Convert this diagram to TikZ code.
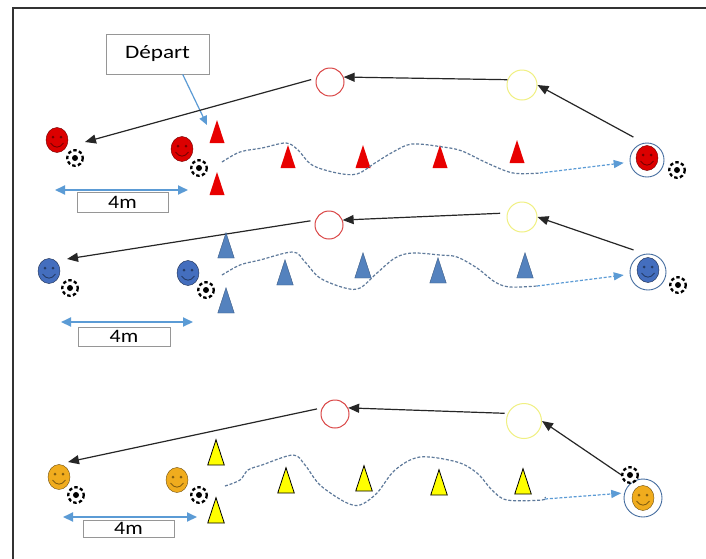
\documentclass[tikz,border=0pt]{standalone}
\usepackage{fontspec}
\setmainfont{Carlito}
\usetikzlibrary{arrows.meta}
\definecolor{conered}{RGB}{232,0,0}
\definecolor{coneblue}{RGB}{84,130,190}
\definecolor{coneyellow}{RGB}{255,255,0}
\definecolor{smred}{RGB}{220,0,0}
\definecolor{smblue}{RGB}{68,110,190}
\definecolor{smorange}{RGB}{240,172,30}
\definecolor{spotred}{RGB}{218,70,70}
\definecolor{spotyellow}{RGB}{240,240,130}
\definecolor{ringblue}{RGB}{70,110,160}
\definecolor{arrowblue}{RGB}{91,155,213}
\definecolor{wavegray}{RGB}{95,122,155}
\definecolor{boxgray}{RGB}{150,150,150}
\tikzset{
cone/.pic={
  \path[pic actions] (-7.5,0) -- (0,-23) -- (7.5,0) -- cycle;
  },
player/.pic={
  \path[pic actions] (0,0) ellipse [x radius=11, y radius=12.5];
  \fill[black, opacity=.45] (-4,-3) circle [radius=1.5] (4,-3) circle [radius=1.5];
  \draw[black, opacity=.45, line width=.9] (-6.5,3) .. controls (-3,8.5) and (3,8.5) .. (6.5,3);
  },
ball/.pic={
  \draw[fill=white, line width=2.3, dash pattern=on 3.4pt off 2.4pt] (0,0) circle [radius=7.8];
  \fill (0,0) circle [radius=3];
  },
spot/.style={circle, draw, line width=1, minimum size=28pt, inner sep=0pt},
ring/.style={circle, draw=ringblue, line width=.9, minimum size=34pt, inner sep=0pt},
tag/.style={draw=boxgray, fill=white, line width=.8, inner sep=0pt, font=\fontsize{19}{20}\selectfont},
pass/.style={-{Triangle[length=11pt,width=9pt]}, line width=1.2, black!85},
dribble/.style={draw=wavegray, line width=1.2, dash pattern=on 3pt off 1.8pt},
dribbleend/.style={draw=arrowblue, line width=1.2, dash pattern=on 3pt off 1.8pt, -{Triangle[length=10pt,width=8pt]}},
dist/.style={{Triangle[length=10pt,width=9pt]}-{Triangle[length=10pt,width=9pt]}, draw=arrowblue, line width=2},
}

\begin{document}
\begin{tikzpicture}[x=1pt, y=-1pt]
  \useasboundingbox[fill=white] (0,0) rectangle (706,558);
  \draw[line width=1.6, black!80] (13,565) -- (13,8) -- (712,8);

  % red group
  \node[tag, minimum width=103pt, minimum height=40pt] (depart) at (157.5,54) {\scalebox{1.22}[1]{Départ}};
  \coordinate (aimd) at (207,125);
  \draw[arrowblue, line width=1.2, -{Triangle[length=9pt,width=8pt]}] (depart.-39) -- (aimd);
  \node[spot, draw=spotred] (r1) at (330,82) {};
  \node[spot, draw=spotyellow, minimum size=30pt] (y1) at (522,85) {};
  \node[ring] (g1) at (647,160) {};
  \coordinate (aim1) at (85,142);
  \draw[pass] (y1.160) -- (r1.20);
  \draw[pass, shorten <=12pt] (g1.100) -- (y1.east);
  \draw[pass, shorten <=5pt] (r1.165) -- (aim1);
  \pic[fill=conered] at (217,143) {cone};
  \pic[fill=conered] at (217,195) {cone};
  \foreach \x/\y in {288/168, 363/168, 440/168, 517/163}
    \pic[fill=conered] at (\x,\y) {cone};
  \draw[dribble] plot[smooth, tension=.55] coordinates {(222,162) (240,152) (262,148) (286,143) (298,150) (312,165) (337,173) (357,174) (375,163) (393,152) (412,144) (443,147) (462,151) (487,163) (513,173) (540,173)};
  \coordinate (wend1) at (540,173);
  \draw[dribbleend, shorten >=6pt] (wend1) -- (g1);
  \pic[fill=smred, draw=smred!50!black] at (57,140) {player};
  \pic[fill=smred, draw=smred!50!black] at (182,149) {player};
  \pic[fill=smred, draw=smred!50!black] at (647,158) {player};
  \pic at (75,158) {ball};
  \pic at (199,168) {ball};
  \pic at (677,170) {ball};
  \node[tag, minimum width=91pt, minimum height=20pt] (m1) at (122.5,202) {\scalebox{1.15}[1]{4m}};
  \coordinate (m1l) at (55,190);
  \coordinate (m1r) at (188,190);
  \draw[dist] (m1l) -- (m1r);

  % blue group
  \node[spot, draw=spotred] (r2) at (329,225) {};
  \node[spot, draw=spotyellow, minimum size=30pt] (y2) at (522,217) {};
  \node[ring, minimum size=36pt] (g2) at (648,272) {};
  \coordinate (aim2) at (67,259);
  \draw[pass, shorten <=7pt] (y2.165) -- (r2.20);
  \draw[pass, shorten <=12pt] (g2.100) -- (y2.east);
  \draw[pass, shorten <=5pt] (r2.160) -- (aim2);
  \pic[fill=coneblue, draw=coneblue!70!black, line width=.4, scale=1.1] at (226,258) {cone};
  \pic[fill=coneblue, draw=coneblue!70!black, line width=.4, scale=1.1] at (226,313) {cone};
  \foreach \x/\y in {285/285, 363/278, 438/283, 525/278}
    \pic[fill=coneblue, draw=coneblue!70!black, line width=.4, scale=1.1] at (\x,\y) {cone};
  \draw[dribble] plot[smooth, tension=.55] coordinates {(222,275) (240,265) (260,260) (293,252) (305,262) (320,278) (345,288) (360,288) (377,273) (395,258) (412,253) (440,255) (457,257) (477,268) (495,282) (510,287) (537,286)};
  \coordinate (wend2) at (537,286);
  \draw[dribbleend, shorten >=6pt] (wend2) -- (g2);
  \pic[fill=smblue, draw=smblue!40!black] at (49,271) {player};
  \pic[fill=smblue, draw=smblue!40!black] at (188,273) {player};
  \pic[fill=smblue, draw=smblue!40!black] at (648,270) {player};
  \pic at (70,288) {ball};
  \pic at (206,290) {ball};
  \pic at (678,285) {ball};
  \node[tag, minimum width=92pt, minimum height=19pt] (m2) at (124,336.5) {\scalebox{1.15}[1]{4m}};
  \coordinate (m2l) at (61,322);
  \coordinate (m2r) at (193,322);
  \draw[dist] (m2l) -- (m2r);

  % yellow group
  \node[spot, draw=spotred] (r3) at (335,414) {};
  \node[spot, draw=spotyellow, minimum size=35pt] (y3) at (524,421) {};
  \node[ring, minimum size=38pt] (g3) at (643,498) {};
  \coordinate (aim3) at (68,462);
  \draw[pass, shorten <=3pt] (y3.155) -- (r3.25);
  \draw[pass, shorten <=12pt] (g3.125) -- (y3.east);
  \draw[pass, shorten <=5pt] (r3.155) -- (aim3);
  \pic[fill=coneyellow, draw=black, line width=.8, scale=1.1] at (216,465) {cone};
  \pic[fill=coneyellow, draw=black, line width=.8, scale=1.1] at (216,523) {cone};
  \foreach \x/\y in {286/493, 364/491, 439/495, 523/494}
    \pic[fill=coneyellow, draw=black, line width=.8, scale=1.1] at (\x,\y) {cone};
  \draw[dribble] plot[smooth, tension=.55] coordinates {(225,486) (240,480) (248,470) (262,465) (293,455) (305,465) (320,485) (345,502) (360,505) (377,493) (395,470) (420,457) (457,462) (477,473) (492,490) (507,500) (542,500) (545,497)};
  \coordinate (wend3) at (545,499);
  \draw[dribbleend, shorten >=3pt] (wend3) -- (g3.165);
  \pic[fill=smorange, draw=smorange!45!black] at (59,477) {player};
  \pic[fill=smorange, draw=smorange!45!black] at (177,480) {player};
  \pic[fill=smorange, draw=smorange!45!black] at (643,498) {player};
  \pic at (76,495) {ball};
  \pic at (199,495) {ball};
  \pic at (630,475) {ball};
  \node[tag, minimum width=91pt, minimum height=17pt] (m3) at (128.5,528.5) {\scalebox{1.15}[1]{4m}};
  \coordinate (m3l) at (63,517);
  \coordinate (m3r) at (197,517);
  \draw[dist] (m3l) -- (m3r);
\end{tikzpicture}
\end{document}
